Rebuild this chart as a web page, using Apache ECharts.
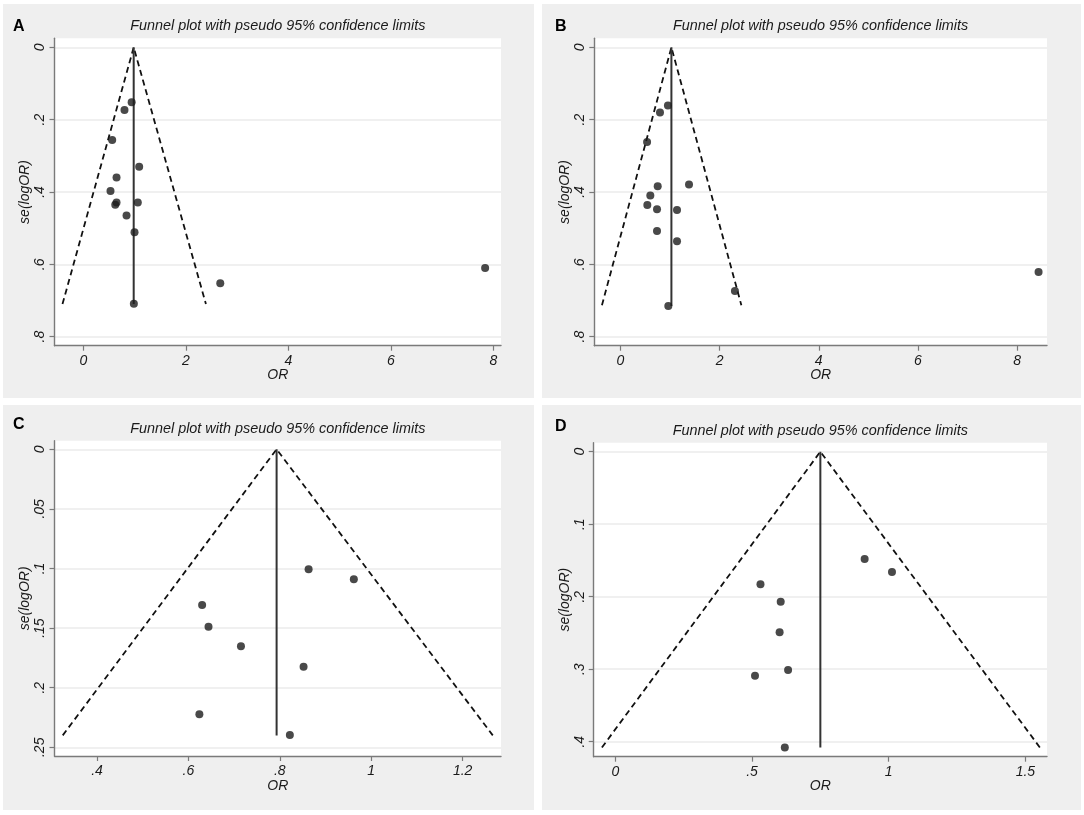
<!DOCTYPE html>
<html><head><meta charset="utf-8">
<script src="https://cdn.jsdelivr.net/npm/echarts@6/dist/echarts.min.js"></script>
<style>
html,body{margin:0;padding:0;background:#fff}
#wrap{position:relative;width:1084px;height:815px}
.bg{position:absolute;background:#efefef}
#c{position:absolute;left:0;top:0;width:1084px;height:815px}
</style>
</head><body>
<div id="wrap">
<div class="bg" style="left:3px;top:4px;width:531px;height:394px"></div>
<div class="bg" style="left:542px;top:4px;width:539px;height:394px"></div>
<div class="bg" style="left:3px;top:405px;width:531px;height:405px"></div>
<div class="bg" style="left:542px;top:405px;width:539px;height:405px"></div>
<div id="c"></div>
</div>
<script>
// ---------- DATA ----------
const titleText = 'Funnel plot with pseudo 95% confidence limits';
const xName = 'OR';
const yName = 'se(logOR)';
const panelLetters = ['A', 'B', 'C', 'D'];

// Panel A
const studiesA = [[0.94,0.152],[0.80,0.173],[0.56,0.256],[1.087,0.330],[0.645,0.360],[0.527,0.397],[0.645,0.429],[0.62,0.435],[1.06,0.429],[0.84,0.465],[0.996,0.511],[0.983,0.709],[2.67,0.652],[7.84,0.610]];
const pooledA = [[0.98,0],[0.98,0.71]];
const limitsA = [[-0.41,0.71],[0.98,0],[2.39,0.71]];
const xTicksA = [0,2,4,6,8];
const xLabelsA = ['0','2','4','6','8'];
const yTicksA = [0,0.2,0.4,0.6,0.8];
const yLabelsA = ['0','.2','.4','.6','.8'];

// Panel B
const studiesB = [[0.96,0.161],[0.80,0.180],[0.54,0.262],[1.385,0.379],[0.754,0.384],[0.605,0.410],[0.545,0.436],[0.74,0.448],[1.143,0.450],[0.74,0.508],[1.143,0.536],[2.31,0.674],[0.968,0.715],[8.43,0.621]];
const pooledB = [[1.03,0],[1.03,0.715]];
const limitsB = [[-0.37,0.713],[1.03,0],[2.44,0.713]];
const xTicksB = [0,2,4,6,8];
const xLabelsB = ['0','2','4','6','8'];
const yTicksB = [0,0.2,0.4,0.6,0.8];
const yLabelsB = ['0','.2','.4','.6','.8'];

// Panel C
const studiesC = [[0.863,0.1007],[0.962,0.109],[0.630,0.1306],[0.644,0.1488],[0.715,0.1653],[0.852,0.1824],[0.624,0.2223],[0.822,0.2397]];
const pooledC = [[0.793,0],[0.793,0.24]];
const limitsC = [[0.325,0.24],[0.793,0],[1.266,0.24]];
const xTicksC = [0.4,0.6,0.8,1,1.2];
const xLabelsC = ['.4','.6','.8','1','1.2'];
const yTicksC = [0,0.05,0.1,0.15,0.2,0.25];
const yLabelsC = ['0','.05','.1','.15','.2','.25'];

// Panel D
const studiesD = [[0.912,0.148],[1.012,0.166],[0.531,0.183],[0.605,0.207],[0.601,0.249],[0.632,0.301],[0.511,0.309],[0.620,0.408]];
const pooledD = [[0.750,0],[0.750,0.408]];
const limitsD = [[-0.049,0.408],[0.750,0],[1.553,0.408]];
const xTicksD = [0,0.5,1,1.5];
const xLabelsD = ['0','.5','1','1.5'];
const yTicksD = [0,0.1,0.2,0.3,0.4];
const yLabelsD = ['0','.1','.2','.3','.4'];

// ---------- LAYOUT ----------
const panels = [
  {studies:studiesA, pooled:pooledA, limits:limitsA, xt:xTicksA, xl:xLabelsA, yt:yTicksA, yl:yLabelsA,
   grid:{left:54.5,top:38.3,width:446.5,height:307.4}, xr:[-0.566,8.15], yr:[-0.025,0.825],
   titleY:19, letterX:13, letterY:19},
  {studies:studiesB, pooled:pooledB, limits:limitsB, xt:xTicksB, xl:xLabelsB, yt:yTicksB, yl:yLabelsB,
   grid:{left:594.3,top:38.3,width:452.7,height:307.4}, xr:[-0.524,8.6], yr:[-0.025,0.825],
   titleY:19, letterX:555, letterY:19},
  {studies:studiesC, pooled:pooledC, limits:limitsC, xt:xTicksC, xl:xLabelsC, yt:yTicksC, yl:yLabelsC,
   grid:{left:54.5,top:440.7,width:446.5,height:315.3}, xr:[0.307,1.284], yr:[-0.0072,0.2573],
   titleY:422, letterX:13, letterY:417},
  {studies:studiesD, pooled:pooledD, limits:limitsD, xt:xTicksD, xl:xLabelsD, yt:yTicksD, yl:yLabelsD,
   grid:{left:593.7,top:442.7,width:453.3,height:314}, xr:[-0.079,1.579], yr:[-0.0124,0.4207],
   titleY:424, letterX:555, letterY:419}
];

const FONT = '"Liberation Sans", Arial, sans-serif';
const axisColor = '#7a7a7a';
const textColor = '#1a1a1a';

function lookup(ticks, labels) {
  return function (v) {
    for (let i = 0; i < ticks.length; i++) if (Math.abs(v - ticks[i]) < 1e-9) return labels[i];
    return '';
  };
}

const option = {
  backgroundColor: 'transparent',
  animation: false,
  title: [], grid: [], xAxis: [], yAxis: [], series: []
};

panels.forEach((p, i) => {
  option.grid.push(Object.assign({show:true, backgroundColor:'#ffffff', borderWidth:0, containLabel:false}, p.grid));
  const cx = p.grid.left + p.grid.width / 2;
  option.title.push({
    text: titleText, left: cx, top: p.titleY, textAlign: 'center', padding: 0,
    textStyle: {fontFamily: FONT, fontSize: 14.4, fontStyle: 'italic', fontWeight: 'normal', color: textColor}
  });
  option.title.push({
    text: panelLetters[i], left: p.letterX, top: p.letterY, padding: 0,
    textStyle: {fontFamily: FONT, fontSize: 16, fontWeight: 'bold', color: '#000'}
  });
  option.xAxis.push({
    gridIndex: i, type: 'value', min: p.xr[0], max: p.xr[1],
    axisLine: {show: true, onZero: false, lineStyle: {color: axisColor, width: 1.4}},
    axisTick: {show: true, length: 5, customValues: p.xt, lineStyle: {color: axisColor, width: 1.2}},
    axisLabel: {customValues: p.xt, formatter: lookup(p.xt, p.xl), fontFamily: FONT, fontSize: 14,
      fontStyle: 'italic', color: textColor, margin: 8},
    splitLine: {show: false},
    name: xName, nameLocation: 'middle', nameGap: 21,
    nameTextStyle: {fontFamily: FONT, fontSize: 14, fontStyle: 'italic', color: textColor}
  });
  option.yAxis.push({
    gridIndex: i, type: 'value', inverse: true, min: p.yr[0], max: p.yr[1],
    axisLine: {show: true, onZero: false, lineStyle: {color: axisColor, width: 1.4}},
    axisTick: {show: true, length: 5, customValues: p.yt, lineStyle: {color: axisColor, width: 1.2}},
    axisLabel: {customValues: p.yt, formatter: lookup(p.yt, p.yl), rotate: 90, fontFamily: FONT, fontSize: 14,
      fontStyle: 'italic', color: textColor, margin: 7},
    splitLine: {show: true, lineStyle: {color: '#ebebeb', width: 1.5}},
    name: yName, nameLocation: 'middle', nameGap: 21, nameRotate: 90,
    nameTextStyle: {fontFamily: FONT, fontSize: 14, fontStyle: 'italic', color: textColor}
  });
  option.series.push({
    type: 'line', xAxisIndex: i, yAxisIndex: i, data: p.limits, symbol: 'none', silent: true,
    lineStyle: {color: '#111111', width: 1.8, type: [6, 4]}, z: 2
  });
  option.series.push({
    type: 'line', xAxisIndex: i, yAxisIndex: i, data: p.pooled, symbol: 'none', silent: true,
    lineStyle: {color: '#333333', width: 2}, z: 3
  });
  option.series.push({
    type: 'scatter', xAxisIndex: i, yAxisIndex: i, data: p.studies, symbol: 'circle', symbolSize: 8,
    itemStyle: {color: '#1c1c1c'}, z: 4
  });
});

const chart = echarts.init(document.getElementById('c'), null, {renderer: 'canvas'});
chart.setOption(option);
</script>
</body></html>
